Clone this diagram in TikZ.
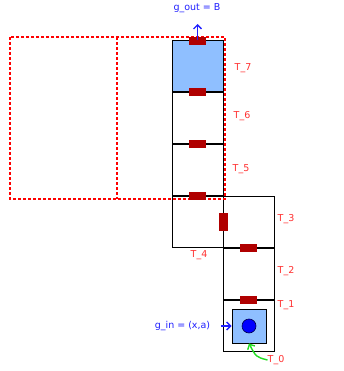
\documentclass[tikz,border=0pt]{standalone}
\usepackage{fontspec}
\setmainfont{DejaVu Sans}
\usetikzlibrary{arrows.meta}
\definecolor{lblue}{HTML}{8FBFFF}
\definecolor{dred}{HTML}{B00000}
\definecolor{lred}{HTML}{FF3030}
\definecolor{tblue}{HTML}{2020FF}
\definecolor{gline}{HTML}{22DD22}
\begin{document}
\begin{tikzpicture}[x=1pt,y=-1pt,
  cell/.style={draw, line width=1pt, minimum size=51pt, inner sep=0pt, outer sep=0pt},
  bar/.style={fill=dred, draw=dred, line width=0.4pt, minimum width=16pt, minimum height=7pt, inner sep=0pt},
  vbar/.style={bar, minimum width=8pt, minimum height=17pt},
  lab/.style={text=lred, font=\fontsize{9.5}{11}\selectfont, inner sep=0pt},
  blab/.style={text=tblue, font=\fontsize{9.5}{11}\selectfont, inner sep=0pt},
  arr/.style={line width=1.4pt, -{Straight Barb[length=4pt,width=8pt]}},
  reddash/.style={draw=red, line width=1.1pt, dash pattern=on 3pt off 2pt}]
\useasboundingbox (0,0) rectangle (344,371);
% cells
\node[cell, fill=lblue] (c7) at (197.5,66) {};
\node[cell] (c6) at (197.5,118) {};
\node[cell] (c5) at (197.5,170) {};
\node[cell] (c4) at (197.5,222) {};
\node[cell] (c3) at (248.5,222) {};
\node[cell] (c2) at (248.5,274) {};
\node[cell] (c1) at (248.5,326) {};
% inner square and circle
\node[draw, line width=0.8pt, fill=lblue, minimum size=34pt, inner sep=0pt] (g) at (249,326) {};
\node[circle, draw=black!70!blue, fill=blue, line width=0.6pt, minimum size=14pt, inner sep=0pt] (dot) at (249,326) {};
% dashed red boxes
\draw[reddash] (10,37) rectangle (225,199);
\draw[reddash] (117,37) -- (117,199);
% bars
\node[bar] (b7) at (c7.north) {};
\node[bar] (b6) at (c7.south) {};
\node[bar] (b5) at (c6.south) {};
\node[bar] (b4) at (c5.south) {};
\node[vbar] (b3) at (c4.east) {};
\node[bar] (b2) at (c3.south) {};
\node[bar] (b1) at (c2.south) {};
% labels
\node[lab] (t7) at (243,68) {T\_7};
\node[lab] (t6) at (242,116) {T\_6};
\node[lab] (t5) at (241,169) {T\_5};
\node[lab] (t4) at (199,255) {T\_4};
\node[lab] (t3) at (286,219) {T\_3};
\node[lab] (t2) at (286,271) {T\_2};
\node[lab] (t1) at (286,305) {T\_1};
\node[lab] (t0) at (276,360) {T\_0};
% out / in
\coordinate (outend) at (197.5,24);
\draw[tblue, arr] (c7.north) -- (outend);
\node[blab] (gout) at (197,8) {g\_out = B};
\node[blab] (gin) at (182.5,326) {g\_in = (x,a)};
\coordinate (instart) at (221,326);
\draw[tblue, arr] (instart) -- (g.west);
\draw[gline, arr] (t0.west) .. controls (256,357) .. (g.south);
\end{tikzpicture}
\end{document}
